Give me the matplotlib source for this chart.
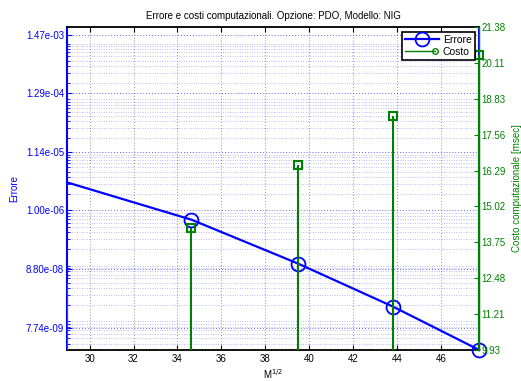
import numpy as np
import matplotlib
matplotlib.use("Agg")
import matplotlib.pyplot as plt
from matplotlib.ticker import FixedLocator, FixedFormatter, LogLocator, NullFormatter
from matplotlib.legend_handler import HandlerLine2D
from matplotlib.lines import Line2D

plt.rcParams['font.family'] = ['Liberation Sans', 'DejaVu Sans']
plt.rcParams['font.size'] = 7

# radice del numero di simulazioni
sqrt_m = [28.98, 34.64, 39.50, 43.82, 47.75]
errore = [3.19e-6, 6.8e-7, 1.10e-7, 1.85e-8, 3.06e-9]
costo = [12.30, 14.25, 16.49, 18.23, 20.39]

err_ticks = [7.74e-09, 8.80e-08, 1.00e-06, 1.14e-05, 1.29e-04, 1.47e-03]
err_lim = (3.06e-9, 2.01e-3)
cost_ticks = [9.93, 11.21, 12.48, 13.75, 15.02, 16.29, 17.56, 18.83, 20.11, 21.38]
x_ticks = [30, 32, 34, 36, 38, 40, 42, 44, 46]

blue = (0, 0, 1)
green = (0, 0.5, 0)


class StemLegend(HandlerLine2D):
    # marker alla fine della linea, come nella legenda di stem
    def create_artists(self, legend, orig_handle, xdescent, ydescent,
                       width, height, fontsize, trans):
        arts = super().create_artists(legend, orig_handle, xdescent, ydescent,
                                      width, height, fontsize, trans)
        line = arts[0]
        xd = np.asarray(line.get_xdata(), dtype=float)
        if len(arts) == 1:
            xd[-1] -= 3
            line.set_xdata(xd)
            line.set_markevery([len(xd) - 1])
        else:
            arts[1].set_xdata([xd[-1] - 3])
        return arts


fig = plt.figure(figsize=(5.21, 3.81), dpi=100)
ax1 = fig.add_axes([67/521, 1 - 350/381, 412/521, 323/381])

ax1.set_yscale('log')
ax1.set_xlim(sqrt_m[0] - 0.01, sqrt_m[-1] - 0.01)
ax1.set_ylim(*err_lim)

ax1.xaxis.set_major_locator(FixedLocator(x_ticks))
ax1.yaxis.set_major_locator(FixedLocator(err_ticks))
ax1.yaxis.set_major_formatter(FixedFormatter(['%.2e' % v for v in err_ticks]))
ax1.yaxis.set_minor_locator(LogLocator(base=10, subs=np.arange(1, 10), numticks=100))
ax1.yaxis.set_minor_formatter(NullFormatter())

ax1.grid(True, axis='x', which='major', color='0.45', linestyle=(0, (1, 2.5)), linewidth=0.6)
ax1.grid(True, axis='y', which='major', color=blue, linestyle=(0, (1, 2.5)), linewidth=0.6, alpha=0.8)
ax1.grid(True, axis='y', which='minor', color=blue, linestyle=(0, (1, 2.5)), linewidth=0.5, alpha=0.5)

ax1.tick_params(axis='x', which='both', direction='in', top=True, length=3.5, width=0.8, colors='k', pad=3)
ax1.tick_params(axis='y', which='major', direction='in', right=True, length=3.5, width=0.8, colors=blue, pad=2)
ax1.tick_params(axis='y', which='minor', direction='in', right=True, length=1.8, width=0.6, colors=blue)
for s in ['top', 'bottom']:
    ax1.spines[s].set_color('k')
    ax1.spines[s].set_linewidth(1.3)
ax1.spines['left'].set_color(blue)
ax1.spines['left'].set_linewidth(1.5)
ax1.spines['right'].set_color(blue)
ax1.spines['right'].set_linewidth(1.5)

ln_err, = ax1.plot(sqrt_m, errore, color=blue, linewidth=1.6, marker='o',
                   markersize=10, markerfacecolor='none', markeredgewidth=1.3,
                   markevery=[1, 2, 3, 4], clip_on=False, zorder=5)

ax1.set_xlabel('M$^{1/2}$', labelpad=2)
ax1.set_ylabel('Errore', color=blue, labelpad=5)
ax1.set_title('Errore e costi computazionali. Opzione: PDO, Modello: NIG', fontsize=7, pad=6)

# asse destro: costo computazionale
ax2 = ax1.twinx()
ax2.set_ylim(cost_ticks[0], cost_ticks[-1])
ax2.yaxis.set_major_locator(FixedLocator(cost_ticks))
ax2.yaxis.set_major_formatter(FixedFormatter(['%.2f' % v for v in cost_ticks]))
ax2.tick_params(axis='y', direction='in', length=3.5, width=0.8, colors=green, pad=2)
for s in ['top', 'bottom', 'left']:
    ax2.spines[s].set_visible(False)
ax2.spines['right'].set_color(green)
ax2.spines['right'].set_linewidth(1.0)

ax2.vlines(sqrt_m, 0, costo, color=green, linewidth=1.5, zorder=3)
ax2.plot(sqrt_m[1:], costo[1:], linestyle='none', marker='s', markersize=6,
         markerfacecolor='none', markeredgecolor=green, markeredgewidth=1.5,
         clip_on=False, zorder=4)
ax2.set_ylabel('Costo computazionale [msec]', color=green, labelpad=4)

h_err = Line2D([], [], color=blue, linewidth=1.6, marker='o', markersize=10,
               markerfacecolor='none', markeredgewidth=1.3)
h_cost = Line2D([], [], color=green, linewidth=1.0, marker='o', markersize=4,
                markerfacecolor='none', markeredgewidth=1.0)
leg = ax2.legend([h_err, h_cost], ['Errore', 'Costo'], loc='upper right',
                 bbox_to_anchor=(0.99, 0.985), numpoints=1, fancybox=False,
                 framealpha=1, edgecolor='k', borderaxespad=0.0,
                 handlelength=3.2, handletextpad=0.4, borderpad=0.3,
                 labelspacing=0.2, fontsize=7.5,
                 handler_map={h_cost: StemLegend()})
leg.get_frame().set_linewidth(1.2)

fig.savefig('out.png', dpi=100)
